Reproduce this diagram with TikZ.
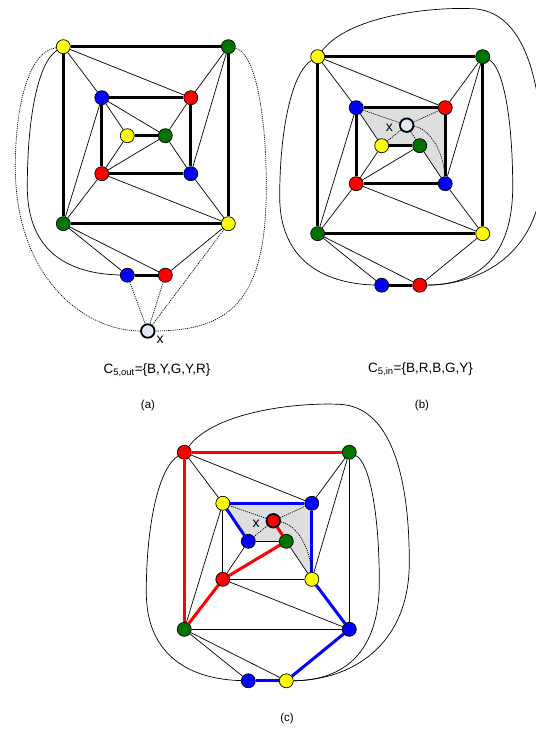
\documentclass[tikz,border=0pt]{standalone}
\usepackage{fontspec}
\setmainfont{Liberation Sans}
\pgfdeclarelayer{edges}
\pgfsetlayers{edges,main}
\definecolor{vred}{RGB}{255,0,0}
\definecolor{vblue}{RGB}{0,0,255}
\definecolor{vgreen}{RGB}{0,115,0}
\definecolor{vyellow}{RGB}{255,255,0}
\definecolor{xfill}{RGB}{226,233,245}
\definecolor{regiongray}{RGB}{222,222,222}
\tikzset{
  vtx/.style={circle,draw=black,line width=0.7pt,inner sep=0pt,minimum size=14pt},
  vR/.style={vtx,fill=vred},
  vB/.style={vtx,fill=vblue},
  vG/.style={vtx,fill=vgreen},
  vY/.style={vtx,fill=vyellow},
  xvtx/.style={vtx,fill=xfill,line width=1.8pt,minimum size=13.5pt},
  xred/.style={vtx,fill=vred,line width=1.8pt,minimum size=13.5pt},
  ethin/.style={draw=black,line width=0.7pt},
  ethick/.style={draw=black,line width=3pt},
  edot/.style={draw=black,line width=0.7pt,dash pattern=on 1.1pt off 1pt},
  rpath/.style={draw=vred,line width=3pt},
  bpath/.style={draw=vblue,line width=3pt},
  caption/.style={font=\fontsize{13.5}{16}\selectfont,anchor=base},
  tag/.style={font=\fontsize{11.5}{13}\selectfont},
  xtag/.style={font=\fontsize{14}{15}\selectfont,inner sep=0pt},
  region/.style={fill=regiongray}
}
\begin{document}
\begin{tikzpicture}[x=1pt,y=-1pt]
\useasboundingbox (0,0) rectangle (535,730);

% ---------------- (a): vertex x outside ----------------
\begin{scope}[shift={(63.3,46.7)}]
  \node[vY] (a1) at (0,0) {};
  \node[vG] (a2) at (165,0) {};
  \node[vG] (a3) at (0,177) {};
  \node[vY] (a4) at (165,177) {};
  \node[vB] (a5) at (38.5,51) {};
  \node[vR] (a6) at (127.5,51) {};
  \node[vR] (a7) at (38.5,127) {};
  \node[vB] (a8) at (127.5,127) {};
  \node[vY] (a9) at (64,89) {};
  \node[vG] (a10) at (102,89) {};
  \node[vB] (a11) at (64,228.5) {};
  \node[vR] (a12) at (102,228.5) {};
  \node[xvtx] (ax) at (84.5,284.3) {};
  \node[xtag] (axl) at (96.7,293.3) {x};
  \begin{pgfonlayer}{edges}
    % thin edges
    \foreach \u/\v in {a1/a5,a1/a6,a2/a6,a2/a8,a3/a5,a3/a7,a4/a7,a4/a8,
                       a5/a9,a5/a10,a6/a10,a7/a9,a7/a10,a8/a10,
                       a3/a11,a3/a12,a4/a12}
      \draw[ethin] (\u) -- (\v);
    % thick cycles
    \draw[ethick] (a1) -- (a2);
    \draw[ethick] (a2) -- (a4);
    \draw[ethick] (a4) -- (a3);
    \draw[ethick] (a3) -- (a1);
    \draw[ethick] (a5) -- (a6);
    \draw[ethick] (a6) -- (a8);
    \draw[ethick] (a8) -- (a7);
    \draw[ethick] (a7) -- (a5);
    \draw[ethick] (a9) -- (a10);
    \draw[ethick] (a11) -- (a12);
    % outer solid curve
    \draw[ethin] (a1) .. controls (-25,15) and (-36,70) .. (-36,140)
                     .. controls (-36,205) and (5,227) .. (a11);
    % edges of x
    \draw[edot] (a1) .. controls (-35,5) and (-48,60) .. (-48,120)
                     .. controls (-48,230) and (20,284) .. (ax);
    \draw[edot] (a2) .. controls (190,5) and (203,60) .. (203,140)
                     .. controls (203,250) and (170,284) .. (ax);
    \draw[edot] (a11) -- (ax);
    \draw[edot] (a12) -- (ax);
    \draw[edot] (a4) -- (ax);
  \end{pgfonlayer}
\end{scope}
\node[caption] (capa) at (157,373) {C\textsubscript{5,out}=\{B,Y,G,Y,R\}};
\node[tag] (taga) at (148,406) {(a)};

% ---------------- (b): vertex x inside ----------------
\begin{scope}[shift={(317.7,56.7)}]
  \node[vY] (b1) at (0,0) {};
  \node[vG] (b2) at (165,0) {};
  \node[vG] (b3) at (0,177) {};
  \node[vY] (b4) at (165,177) {};
  \node[vB] (b5) at (38.5,51) {};
  \node[vR] (b6) at (127.5,51) {};
  \node[vR] (b7) at (38.5,127) {};
  \node[vB] (b8) at (127.5,127) {};
  \node[vY] (b9) at (64,89) {};
  \node[vG] (b10) at (102,89) {};
  \node[vB] (b11) at (64,228.5) {};
  \node[vR] (b12) at (102,228.5) {};
  \node[xvtx] (bx) at (89,68.5) {};
  \node[xtag] (bxl) at (71.7,71.5) {x};
  \begin{pgfonlayer}{edges}
    \fill[region] (b5.center) -- (b6.center) -- (b8.center) -- (b10.center) -- (b9.center) -- cycle;
    \foreach \u/\v in {b1/b5,b1/b6,b2/b6,b2/b8,b3/b5,b3/b7,b4/b7,b4/b8,
                       b5/b9,b7/b9,b7/b10,b8/b10,
                       b3/b11,b3/b12,b4/b12}
      \draw[ethin] (\u) -- (\v);
    \draw[ethick] (b1) -- (b2);
    \draw[ethick] (b2) -- (b4);
    \draw[ethick] (b4) -- (b3);
    \draw[ethick] (b3) -- (b1);
    \draw[ethick] (b5) -- (b6);
    \draw[ethick] (b6) -- (b8);
    \draw[ethick] (b8) -- (b7);
    \draw[ethick] (b7) -- (b5);
    \draw[ethick] (b9) -- (b10);
    \draw[ethick] (b11) -- (b12);
    % outer curves
    \draw[ethin] (b1) .. controls (-25,15) and (-38,70) .. (-38,140)
                     .. controls (-38,205) and (8,227) .. (b11);
    \draw[ethin] (b1) .. controls (30,-40) and (110,-50) .. (155,-48)
                     .. controls (205,-46) and (225,20) .. (225,110)
                     .. controls (225,195) and (165,228) .. (b12);
    \draw[ethin] (b2) .. controls (185,10) and (195,60) .. (195,130)
                     .. controls (195,200) and (160,228) .. (b12);
    % edges of x
    \draw[edot] (bx) -- (b5);
    \draw[edot] (bx) -- (b6);
    \draw[edot] (bx) -- (b9);
    \draw[edot] (bx) -- (b10);
    \draw[edot] (bx) .. controls (112,72) and (126,95) .. (b8);
  \end{pgfonlayer}
\end{scope}
\node[caption] (capb) at (420.5,372) {C\textsubscript{5,in}=\{B,R,B,G,Y\}};
\node[tag] (tagb) at (422,406) {(b)};

% ---------------- (c): recoloured graph ----------------
\begin{scope}[shift={(184.3,452.3)}]
  \node[vR] (c1) at (0,0) {};
  \node[vG] (c2) at (165,0) {};
  \node[vG] (c3) at (0,177) {};
  \node[vB] (c4) at (165,177) {};
  \node[vY] (c5) at (38.5,51) {};
  \node[vB] (c6) at (127.5,51) {};
  \node[vR] (c7) at (38.5,127) {};
  \node[vY] (c8) at (127.5,127) {};
  \node[vB] (c9) at (64,89) {};
  \node[vG] (c10) at (102,89) {};
  \node[vB] (c11) at (64,228.5) {};
  \node[vY] (c12) at (102,228.5) {};
  \node[xred] (cx) at (89,68.5) {};
  \node[xtag] (cxl) at (71.7,71.5) {x};
  \begin{pgfonlayer}{edges}
    \fill[region] (c5.center) -- (c6.center) -- (c8.center) -- (c10.center) -- (c9.center) -- cycle;
    \foreach \u/\v in {c1/c5,c1/c6,c2/c6,c2/c8,c3/c5,c4/c7,
                       c7/c9,c8/c10,c3/c11,c3/c12,
                       c2/c4,c3/c4,c5/c7,c7/c8,c9/c10}
      \draw[ethin] (\u) -- (\v);
    % red path
    \draw[rpath] (c2) -- (c1);
    \draw[rpath] (c1) -- (c3);
    \draw[rpath] (c3) -- (c7);
    \draw[rpath] (c7) -- (c10);
    \draw[rpath] (c10) -- (cx);
    % blue path
    \draw[bpath] (c9) -- (c5);
    \draw[bpath] (c5) -- (c6);
    \draw[bpath] (c6) -- (c8);
    \draw[bpath] (c8) -- (c4);
    \draw[bpath] (c4) -- (c12);
    \draw[bpath] (c12) -- (c11);
    % outer curves
    \draw[ethin] (c1) .. controls (-25,15) and (-38,70) .. (-38,140)
                     .. controls (-38,205) and (8,227) .. (c11);
    \draw[ethin] (c1) .. controls (30,-40) and (110,-50) .. (155,-48)
                     .. controls (205,-46) and (225,20) .. (225,110)
                     .. controls (225,195) and (165,228) .. (c12);
    \draw[ethin] (c2) .. controls (185,10) and (195,60) .. (195,130)
                     .. controls (195,200) and (160,228) .. (c12);
    % remaining edges of x
    \draw[edot] (cx) -- (c5);
    \draw[edot] (cx) -- (c6);
    \draw[edot] (cx) -- (c9);
    \draw[edot] (cx) .. controls (112,72) and (126,95) .. (c8);
  \end{pgfonlayer}
\end{scope}
\node[tag] (tagc) at (287,719) {(c)};
\end{tikzpicture}
\end{document}
